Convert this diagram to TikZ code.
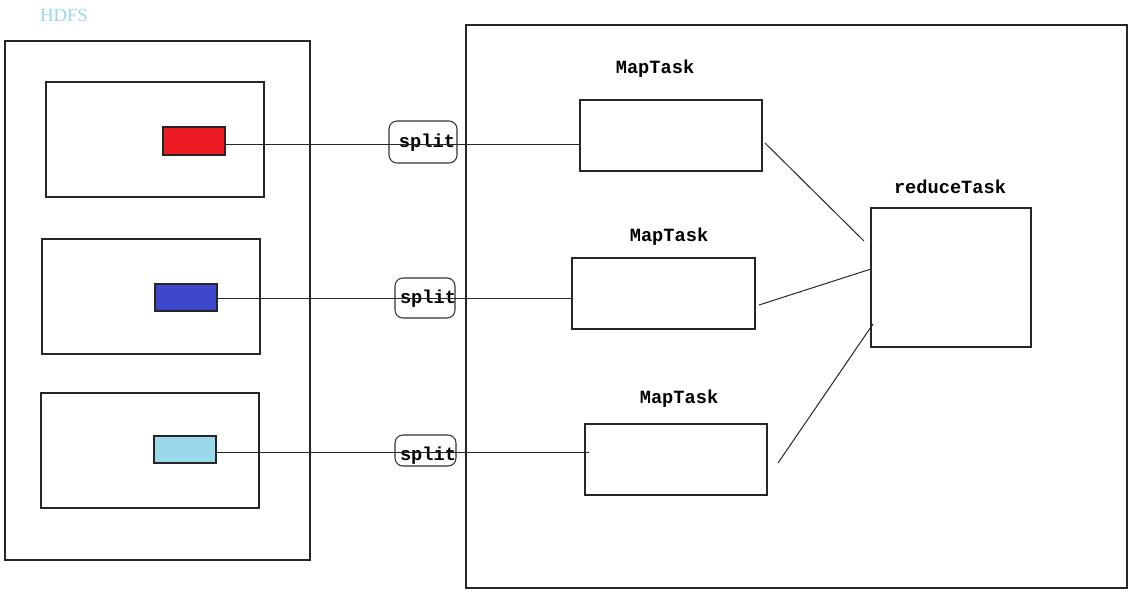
\documentclass[tikz,border=0pt]{standalone}
\usepackage{fontspec}
\setmainfont{Liberation Serif}
\newfontfamily\labelfont{Liberation Mono}
\usetikzlibrary{fit}
\begin{document}
\begin{tikzpicture}[x=0.75pt,y=-0.75pt,
  box/.style={draw=black!85, line width=0.9pt, inner sep=0pt},
  blk/.style={draw=black!85, line width=0.9pt, inner sep=0pt},
  splitbox/.style={draw=black!80, line width=0.8pt, rounded corners=6pt, inner sep=0pt},
  lbl/.style={font=\labelfont\bfseries\fontsize{14}{16}\selectfont, inner sep=0pt},
  conn/.style={draw=black!85, line width=0.75pt}]
\useasboundingbox (0,0) rectangle (1132,593);
% HDFS label
\node[font=\fontsize{14}{16}\selectfont, text={rgb,255:red,154;green,216;blue,236}, inner sep=0pt] (hdfslbl) at (64,15) {HDFS};
% left container
\node[box, fit={(5,41) (310,560)}] (hdfs) {};
\node[box, fit={(46,82) (264,197)}] (blk1) {};
\node[box, fit={(42,239) (260,354)}] (blk2) {};
\node[box, fit={(41,393) (259,508)}] (blk3) {};
\node[blk, fill={rgb,255:red,237;green,28;blue,36}, fit={(163,127) (225,155)}] (r1) {};
\node[blk, fill={rgb,255:red,63;green,72;blue,204}, fit={(155,284) (217,311)}] (r2) {};
\node[blk, fill={rgb,255:red,153;green,217;blue,234}, fit={(154,436) (216,463)}] (r3) {};
% right container
\node[box, fit={(466,25) (1127,588)}] (cluster) {};
\node[box, fit={(580,100) (762,171)}] (m1) {};
\node[box, fit={(572,258) (755,329)}] (m2) {};
\node[box, fit={(585,424) (767,495)}] (m3) {};
\node[box, fit={(871,208) (1031,347)}] (red) {};
\node[lbl] (m1lbl) at (655,69) {MapTask};
\node[lbl] (m2lbl) at (669,237) {MapTask};
\node[lbl] (m3lbl) at (679,399) {MapTask};
\node[lbl] (redlbl) at (950,187) {reduceTask};
% split boxes
\node[splitbox, fit={(389,121) (457,163)}] (s1) {};
\node[splitbox, fit={(395,278) (455,318)}] (s2) {};
\node[splitbox, fit={(395,435) (456,466)}] (s3) {};
\node[lbl] (s1t) at (427,143) {split};
\node[lbl] (s2t) at (428,299) {split};
\node[lbl] (s3t) at (428,456) {split};
% connectors
\coordinate (y1) at (0,144);
\coordinate (y2) at (0,298);
\coordinate (y3) at (0,452);
\coordinate (e3) at (589,452);
\draw[conn] (r1.east |- y1) -- (m1.west |- y1);
\draw[conn] (r2.east |- y2) -- (m2.west |- y2);
\draw[conn] (r3.east |- y3) -- (e3);
\coordinate (a1) at (765,143);
\coordinate (b1) at (864,241);
\coordinate (a2) at (759,305);
\coordinate (b2) at (871,269);
\coordinate (a3) at (778,463);
\coordinate (b3) at (873,324);
\draw[conn] (a1) -- (b1);
\draw[conn] (a2) -- (b2);
\draw[conn] (a3) -- (b3);
\end{tikzpicture}
\end{document}
